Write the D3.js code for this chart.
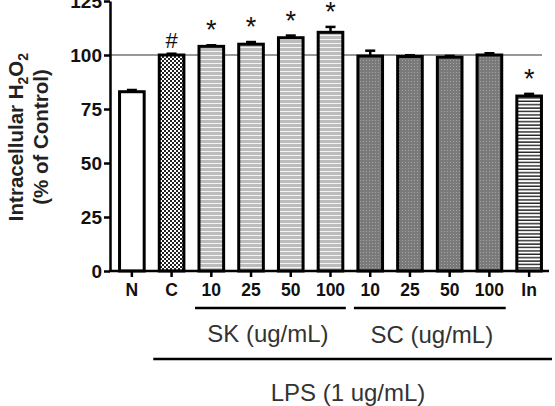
<!DOCTYPE html>
<svg width="555" height="406"></svg>
<script src="https://d3js.org/d3.v7.min.js"></script>
<style>
  body { margin: 0; background: #fff; }
  svg { font-family: "Liberation Sans", Arial, sans-serif; }
  .axis path, .axis line { stroke: #000; stroke-width: 2.5px; }
  .axis text { font-weight: bold; fill: #111; }
  .y.axis text { font-size: 19px; }
  .x.axis text { font-size: 17.5px; }
</style>
<script>
// groups along the x axis
var labels = ["N", "C", "10", "25", "50", "100", "10", "25", "50", "100", "In"];
var keys = ["N", "C", "SK10", "SK25", "SK50", "SK100", "SC10", "SC25", "SC50", "SC100", "In"];
var values = [83, 100, 104, 105, 108, 110.5, 99.5, 99.3, 99, 100, 81];
var errors = [0.8, 0.6, 0.5, 1, 1, 2.5, 2.5, 0.6, 0.6, 0.8, 1];
var marks = ["", "#", "*", "*", "*", "*", "", "", "", "", "*"];
var fills = ["white", "url(#checker)", "url(#skStripe)", "url(#skStripe)", "url(#skStripe)", "url(#skStripe)",
             "url(#scDots)", "url(#scDots)", "url(#scDots)", "url(#scDots)", "url(#inStripe)"];
var yTicks = [0, 25, 50, 75, 100, 125];

var svg = d3.select("svg");

var x = d3.scaleBand().domain(keys).range([112, 549]).paddingInner(0.38).paddingOuter(0.19);
var y = d3.scaleLinear().domain([0, 125]).range([271, 1]);

// patterns
var defs = svg.append("defs");
var p = defs.append("pattern").attr("id", "checker").attr("patternUnits", "userSpaceOnUse").attr("width", 4).attr("height", 4);
p.append("rect").attr("width", 4).attr("height", 4).attr("fill", "#222");
p.append("rect").attr("width", 2).attr("height", 2).attr("fill", "#fff");
p.append("rect").attr("x", 2).attr("y", 2).attr("width", 2).attr("height", 2).attr("fill", "#fff");

p = defs.append("pattern").attr("id", "skStripe").attr("patternUnits", "userSpaceOnUse").attr("width", 4).attr("height", 4);
p.append("rect").attr("width", 4).attr("height", 4).attr("fill", "#bcbcbc");
p.append("rect").attr("y", 3).attr("width", 4).attr("height", 1).attr("fill", "#f4f4f4");

p = defs.append("pattern").attr("id", "scDots").attr("patternUnits", "userSpaceOnUse").attr("width", 3).attr("height", 3);
p.append("rect").attr("width", 3).attr("height", 3).attr("fill", "#7a7a7a");
p.append("rect").attr("width", 1).attr("height", 1).attr("fill", "#a4a4a4");

p = defs.append("pattern").attr("id", "inStripe").attr("patternUnits", "userSpaceOnUse").attr("width", 4).attr("height", 3.4);
p.append("rect").attr("width", 4).attr("height", 3.4).attr("fill", "#fff");
p.append("rect").attr("y", 2).attr("width", 4).attr("height", 1.4).attr("fill", "#222");

var data = keys.map(function(k, i) {
  return {key: k, label: labels[i], value: values[i], err: errors[i], mark: marks[i], fill: fills[i]};
});

var cx = function(d) { return x(d.key) + x.bandwidth() / 2; };

// reference line at 100
svg.append("line")
    .attr("x1", 110).attr("x2", 542)
    .attr("y1", y(100)).attr("y2", y(100))
    .attr("stroke", "#333").attr("stroke-width", 1);

// error bars
var eb = svg.append("g").selectAll("g").data(data).enter().append("g");
eb.append("line")
    .attr("x1", cx).attr("x2", cx)
    .attr("y1", function(d) { return y(d.value); })
    .attr("y2", function(d) { return y(d.value + d.err); })
    .attr("stroke", "#000").attr("stroke-width", 2.5);
eb.append("line")
    .attr("x1", function(d) { return cx(d) - 5; })
    .attr("x2", function(d) { return cx(d) + 5; })
    .attr("y1", function(d) { return y(d.value + d.err); })
    .attr("y2", function(d) { return y(d.value + d.err); })
    .attr("stroke", "#000").attr("stroke-width", 2.5);

// bars
svg.append("g").selectAll("rect").data(data).enter().append("rect")
    .attr("x", function(d) { return x(d.key); })
    .attr("y", function(d) { return y(d.value); })
    .attr("width", x.bandwidth())
    .attr("height", function(d) { return y(0) - y(d.value); })
    .attr("fill", function(d) { return d.fill; })
    .attr("stroke", "#000").attr("stroke-width", 3);

// significance marks
svg.append("g").selectAll("text").data(data.filter(function(d) { return d.mark; })).enter().append("text")
    .attr("x", cx)
    .attr("y", function(d) { return y(d.value + d.err) - (d.mark === "#" ? 6 : 6); })
    .attr("text-anchor", "middle")
    .style("font-size", function(d) { return d.mark === "#" ? "22px" : "27px"; })
    .style("fill", "#111")
    .text(function(d) { return d.mark; });

// axes
svg.append("g").attr("class", "y axis")
    .attr("transform", "translate(110,0)")
    .call(d3.axisLeft(y).tickValues(yTicks).tickSize(6).tickPadding(2).tickSizeOuter(0));

var xAxis = svg.append("g").attr("class", "x axis")
    .attr("transform", "translate(0," + y(0) + ")")
    .call(d3.axisBottom(x).tickSize(6).tickPadding(7).tickSizeOuter(0).tickFormat(function(k, i) { return labels[i]; }));
xAxis.select(".domain").attr("d", "M109,0H549");

// group annotations
var skMid = (x("SK10") + x("SK100") + x.bandwidth()) / 2;
var scMid = (x("SC10") + x("SC100") + x.bandwidth()) / 2;
svg.append("line").attr("x1", x("SK10") - 4).attr("x2", x("SK100") + x.bandwidth() + 3)
    .attr("y1", 308).attr("y2", 308).attr("stroke", "#000").attr("stroke-width", 2.5);
svg.append("line").attr("x1", x("SC10") - 4).attr("x2", x("SC100") + x.bandwidth() + 4)
    .attr("y1", 308).attr("y2", 308).attr("stroke", "#000").attr("stroke-width", 2.5);
svg.append("line").attr("x1", x("C") - 6).attr("x2", 552)
    .attr("y1", 359).attr("y2", 359).attr("stroke", "#000").attr("stroke-width", 2.5);

svg.append("text").attr("x", skMid - 3).attr("y", 342).attr("text-anchor", "middle")
    .style("font-size", "24px").style("fill", "#333").text("SK (ug/mL)");
svg.append("text").attr("x", scMid + 2).attr("y", 343).attr("text-anchor", "middle")
    .style("font-size", "24px").style("fill", "#333").text("SC (ug/mL)");
svg.append("text").attr("x", 348).attr("y", 401).attr("text-anchor", "middle")
    .style("font-size", "24px").style("fill", "#333").text("LPS (1 ug/mL)");

// y axis title
var yt = svg.append("text").attr("transform", "translate(23,137) rotate(-90)")
    .attr("text-anchor", "middle").style("font-weight", "bold").style("font-size", "20.5px").style("fill", "#222");
yt.append("tspan").text("Intracellular H");
yt.append("tspan").attr("dy", 5).style("font-size", "14px").text("2");
yt.append("tspan").attr("dy", -5).text("O");
yt.append("tspan").attr("dy", 5).style("font-size", "14px").text("2");
svg.append("text").attr("transform", "translate(48,137) rotate(-90)")
    .attr("text-anchor", "middle").style("font-weight", "bold").style("font-size", "20.5px").style("fill", "#222")
    .text("(% of Control)");
</script>
